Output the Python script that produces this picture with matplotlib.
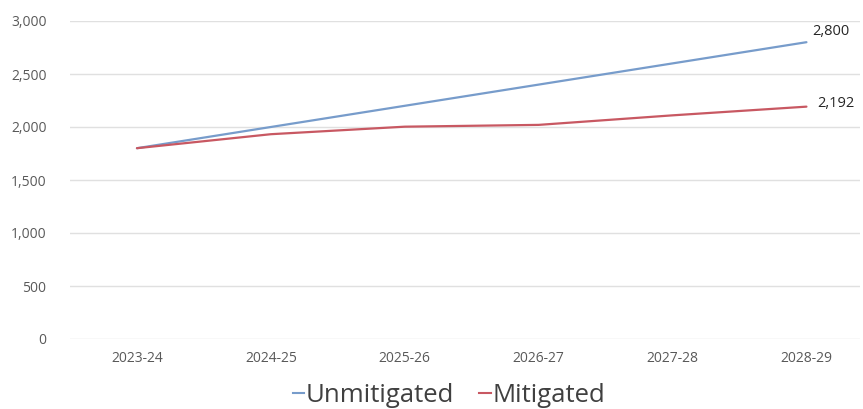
import matplotlib
matplotlib.use("Agg")
import matplotlib.pyplot as plt
from matplotlib.lines import Line2D

categories = ["2023-24", "2024-25", "2025-26", "2026-27", "2027-28", "2028-29"]
unmitigated = [1800, 2000, 2200, 2400, 2600, 2800]
mitigated = [1800, 1932, 2003, 2020, 2110, 2192]
yticks = [0, 500, 1000, 1500, 2000, 2500, 3000]

plt.rcParams['font.family'] = ['Open Sans', 'DejaVu Sans']

fig = plt.figure(figsize=(8.63, 4.09), dpi=100)
ax = fig.add_axes([70/863, (409-339)/409, 790/863, 318/409])

blue = '#779CCB'
red = '#C85862'
x = list(range(len(categories)))
ax.plot(x, unmitigated, color=blue, lw=1.6, solid_capstyle='round')
ax.plot(x, mitigated, color=red, lw=1.6, solid_capstyle='round')

ax.set_xlim(-0.5, 5.40)
ax.set_ylim(0, 3000)
ax.set_yticks(yticks)
ax.set_yticklabels([f"{v:,}" for v in yticks])
ax.set_xticks(x)
ax.set_xticklabels(categories)
ax.tick_params(length=0, colors='#595959', labelsize=10)
ax.tick_params(axis='y', pad=17)
ax.tick_params(axis='x', pad=9)
ax.grid(axis='y', color='#E0E0E0', lw=1)
ax.set_axisbelow(True)
for s in ax.spines.values():
    s.set_visible(False)

ax.annotate(f"{unmitigated[-1]:,}", (x[-1], unmitigated[-1]), xytext=(4, 2),
            textcoords='offset points', fontsize=10.5, color='#262626', va='bottom', ha='left')
ax.annotate(f"{mitigated[-1]:,}", (x[-1], mitigated[-1]), xytext=(8, 2),
            textcoords='offset points', fontsize=10.5, color='#262626', va='center', ha='left')

handles = [Line2D([], [], color=blue, lw=1.5), Line2D([], [], color=red, lw=1.5)]
fig.legend(handles, ["Unmitigated", "Mitigated"], loc='center', bbox_to_anchor=(0.52, 0.033),
           ncol=2, frameon=False, fontsize=18.5, handlelength=0.45, handletextpad=0.05,
           columnspacing=1.0, labelcolor='#404040')

fig.savefig("out.png", dpi=100)
